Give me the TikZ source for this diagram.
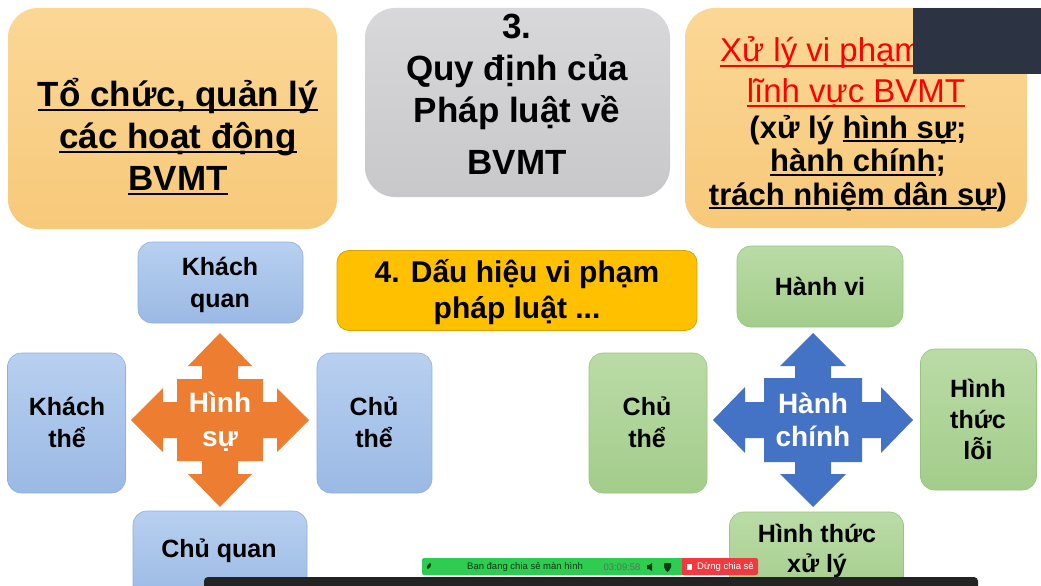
\documentclass[tikz,border=0pt]{standalone}
\usepackage{fontspec}
\setmainfont{Liberation Sans}
\newcommand\ulx[2][5pt]{\setbox0=\hbox{#2}\rlap{\rule[-#1]{\wd0}{2pt}}\box0}
\definecolor{orT}{HTML}{FBD796}
\definecolor{orB}{HTML}{F7C97A}
\definecolor{grT}{HTML}{D8D8DA}
\definecolor{grB}{HTML}{C8C8CA}
\definecolor{blT}{HTML}{B8D0F0}
\definecolor{blB}{HTML}{9AB9E4}
\definecolor{blD}{HTML}{8FB0DC}
\definecolor{gnT}{HTML}{BADBA6}
\definecolor{gnB}{HTML}{A3CD8B}
\definecolor{gnD}{HTML}{98C47F}
\definecolor{yel}{HTML}{FFC000}
\definecolor{yelD}{HTML}{D9A300}
\definecolor{orA}{HTML}{ED7D31}
\definecolor{blA}{HTML}{4472C4}
\definecolor{redT}{HTML}{FF0000}
\definecolor{darkbox}{HTML}{2C3444}
\definecolor{zgreen}{HTML}{2ECC50}
\definecolor{zred}{HTML}{EF3B3F}
\definecolor{zbar}{HTML}{232323}
\definecolor{ztext}{HTML}{0E3A18}
\begin{document}
\begin{tikzpicture}[x=1pt,y=-1pt,
  topbox/.style={rounded corners=30pt, inner sep=0pt, draw=none},
  bluebox/.style={rounded corners=14pt, inner sep=0pt, top color=blT, bottom color=blB, draw=blD, line width=0.6pt},
  greenbox/.style={rounded corners=14pt, inner sep=0pt, top color=gnT, bottom color=gnB, draw=gnD, line width=0.6pt},
  bigtxt/.style={font=\fontsize{35}{42}\selectfont\bfseries, align=center, inner sep=0pt, anchor=base},
  midtxt/.style={font=\fontsize{25}{32}\selectfont\bfseries, align=center, inner sep=0pt, anchor=base},
  arrtxt/.style={font=\fontsize{28}{34}\selectfont\bfseries, text=white, align=center, inner sep=0pt, anchor=base},
  smalltxt/.style={font=\fontsize{9.5}{11}\selectfont, inner sep=0pt},
  quad/.style n args={8}{insert path={(0,-#8) -- (#4,-#7) -- (#3,-#7) -- (#3,-#2) -- (#1,-#2) -- (#1,-#3) -- (#5,-#3) -- (#5,-#4) -- (#6,0) -- (#5,#4) -- (#5,#3) -- (#1,#3) -- (#1,#2) -- (#3,#2) -- (#3,#7) -- (#4,#7) -- (0,#8) -- (-#4,#7) -- (-#3,#7) -- (-#3,#2) -- (-#1,#2) -- (-#1,#3) -- (-#5,#3) -- (-#5,#4) -- (-#6,0) -- (-#5,-#4) -- (-#5,-#3) -- (-#1,-#3) -- (-#1,-#2) -- (-#3,-#2) -- (-#3,-#7) -- (-#4,-#7) -- cycle}}
]
\useasboundingbox (0,0) rectangle (1041,586);
\clip (0,0) rectangle (1041,586);
\fill[white] (0,0) rectangle (1041,586);

% ---------- top row ----------
\node[topbox, top color=orT, bottom color=orB, minimum width=329pt, minimum height=221pt] (b1) at (172.5,118.5) {};
\node[bigtxt] (t1) at (178,190) {\ulx{Tổ chức, quản lý}\\\ulx{các hoạt động}\\\ulx{BVMT}};

\node[topbox, top color=grT, bottom color=grB, minimum width=305pt, minimum height=189pt] (b2) at (517.5,102.5) {};
\node[bigtxt] (t2) at (517,174) {3.\\Quy định của\\Pháp luật về\\[10pt]BVMT};

\node[topbox, top color=orT, bottom color=orB, minimum width=342pt, minimum height=220pt] (b3) at (856,118) {};
\node[font=\fontsize{33}{40}\selectfont, text=redT, inner sep=0pt, anchor=base west] (t3a) at (720,62) {\ulx{Xử lý vi phạm}};
\node[font=\fontsize{33}{40}\selectfont, text=redT, inner sep=0pt, anchor=base] (t3b) at (856,102) {\ulx{lĩnh vực BVMT}};
\node[font=\fontsize{31}{33.5}\selectfont\bfseries, align=center, inner sep=0pt, anchor=base] (t3c) at (858,205)
  {(xử lý \ulx[4pt]{hình sự};\\\ulx[4pt]{hành chính};\\\ulx[4pt]{trách nhiệm dân sự})};
\fill[darkbox] (913,8) rectangle (1041,74);

% ---------- yellow title ----------
\node[rounded corners=12pt, fill=yel, draw=yelD, line width=0.8pt, minimum width=360pt, minimum height=80pt, inner sep=0pt] (b4) at (517,290.5) {};
\node[font=\fontsize{30}{36}\selectfont\bfseries, align=center, inner sep=0pt, anchor=base] (t4) at (517,318) {4. Dấu hiệu vi phạm\\pháp luật ...};

% ---------- left cluster (Hình sự) ----------
\node[bluebox, minimum width=165pt, minimum height=81pt] (kq) at (220.5,282.5) {};
\node[midtxt] (kqt) at (220,307) {Khách\\quan};
\node[bluebox, minimum width=118pt, minimum height=140pt] (kt) at (66.5,423) {};
\node[midtxt] (ktt) at (67,447) {Khách\\thể};
\node[bluebox, minimum width=115pt, minimum height=140pt] (ct) at (374.5,423) {};
\node[midtxt] (ctt) at (374,447) {Chủ\\thể};
\node[bluebox, minimum width=174pt, minimum height=90pt] (cq) at (220,556) {};
\node[midtxt] (cqt) at (219,557) {Chủ quan};

\fill[orA, shift={(220,420)}, quad={43}{41}{18}{32}{57}{89}{54}{87}];
\node[arrtxt] (hs) at (220,446) {Hình\\sự};

% ---------- right cluster (Hành chính) ----------
\node[greenbox, minimum width=166pt, minimum height=81pt] (hv) at (820,286.5) {};
\node[midtxt] (hvt) at (820,295) {Hành vi};
\node[greenbox, minimum width=118pt, minimum height=140pt] (ct2) at (648,423) {};
\node[midtxt] (ct2t) at (647,447) {Chủ\\thể};
\node[greenbox, minimum width=116pt, minimum height=141pt] (htl) at (978.5,419.5) {};
\node[midtxt, font=\fontsize{25}{31}\selectfont\bfseries] (htlt) at (978,459) {Hình\\thức\\lỗi};
\node[greenbox, minimum width=174pt, minimum height=90pt] (htx) at (816.5,557) {};
\node[midtxt, font=\fontsize{25}{30}\selectfont\bfseries] (htxt) at (817,572) {Hình thức\\xử lý};

\fill[blA, shift={(813,420)}, quad={49}{42}{18}{33}{68}{100}{54}{87}];
\node[arrtxt, font=\fontsize{28}{33}\selectfont\bfseries] (hc) at (813,446) {Hành\\chính};

% ---------- screen-share bar ----------
\fill[zbar, rounded corners=4pt] (204,577) rectangle (978,596);
\fill[zgreen, rounded corners=2pt] (422,558) rectangle (684,575);
\fill[zred, rounded corners=2pt] (682,558) rectangle (758,575);
\fill[zred] (682,558) rectangle (686,575);
\fill[ztext, rotate around={-35:(429,566)}] (429,566) ellipse (1.6pt and 3.2pt);
\node[smalltxt, text=ztext] (zb1) at (525,567) {Bạn đang chia sẻ màn hình};
\node[smalltxt, text=ztext!70] (zb2) at (622,567) {03:09:58};
\fill[ztext] (647,565) rectangle (649,569) -- (652,571) -- (652,563) -- (649,565) -- cycle;
\fill[ztext] (664,563) -- (671,563) -- (671,567) .. controls (671,570) and (668,571) .. (667.5,572) .. controls (667,571) and (664,570) .. (664,567) -- cycle;
\fill[white] (687,564) rectangle (692,570);
\node[smalltxt, text=white, anchor=west] (zb3) at (697,567) {Dừng chia sẻ};
\end{tikzpicture}
\end{document}
